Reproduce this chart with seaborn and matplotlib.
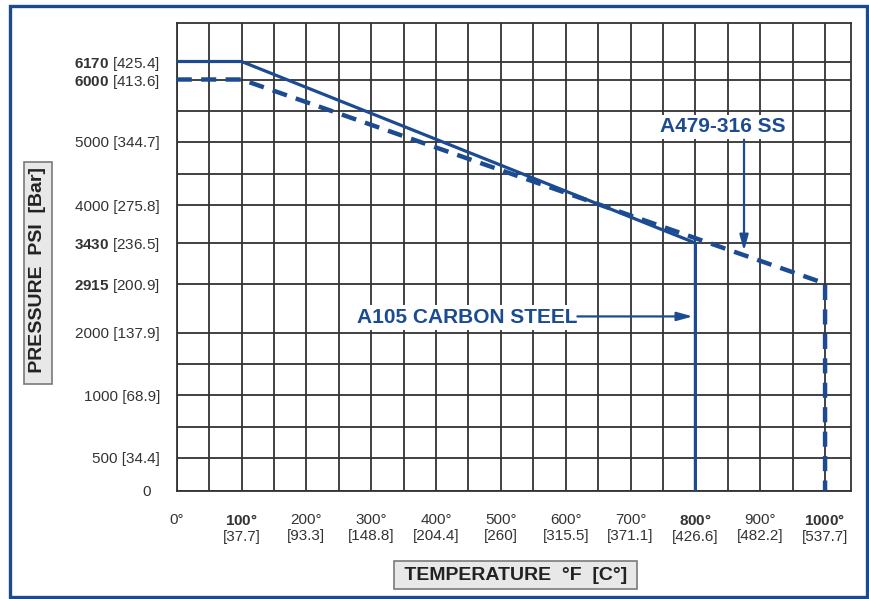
import numpy as np
import pandas as pd
import seaborn as sns
import matplotlib.pyplot as plt
from matplotlib.patches import Rectangle

# Rating curves: temperature (F) vs pressure (PSI)
temp_a105 = [0, 100, 800, 800]
psi_a105 = [6170, 6170, 3430, 0]
temp_a479 = [0, 100, 1000, 1000]
psi_a479 = [6000, 6000, 2915, 0]

# Tick values and labels
x_ticks = [0, 100, 200, 300, 400, 500, 600, 700, 800, 900, 1000]
x_labels = ["0°", "$\\mathbf{100°}$\n[37.7]", "200°\n[93.3]", "300°\n[148.8]",
            "400°\n[204.4]", "500°\n[260]", "600°\n[315.5]", "700°\n[371.1]",
            "$\\mathbf{800°}$\n[426.6]", "900°\n[482.2]", "$\\mathbf{1000°}$\n[537.7]"]
x_minor = [50, 150, 250, 350, 450, 550, 650, 750, 850, 950]
y_ticks = [0, 500, 1000, 2000, 2915, 3430, 4000, 5000, 6000, 6170]
y_labels = ["0  ", "500 [34.4]", "1000 [68.9]", "2000 [137.9]",
            "$\\mathbf{2915}$ [200.9]", "$\\mathbf{3430}$ [236.5]", "4000 [275.8]",
            "5000 [344.7]", "$\\mathbf{6000}$ [413.6]", "$\\mathbf{6170}$ [425.4]"]
y_minor = [750, 1500, 4500, 5500]

# The pressure axis of the original is not to scale: every grid line has its own height
scale_psi = [0, 500, 750, 1000, 1500, 2000, 2915, 3430, 4000, 4500, 5000, 5500, 6000, 6170]
scale_pos = [0, 33, 64, 95.5, 127, 158, 207, 247.5, 285.5, 317, 349, 380, 411, 429]


def _interp(v, xs, ys):
    v = np.asarray(v, dtype=float)
    out = np.interp(v, xs, ys)
    lo = (ys[1] - ys[0]) / (xs[1] - xs[0])
    hi = (ys[-1] - ys[-2]) / (xs[-1] - xs[-2])
    out = np.where(v < xs[0], ys[0] + (v - xs[0]) * lo, out)
    out = np.where(v > xs[-1], ys[-1] + (v - xs[-1]) * hi, out)
    return out


def forward(v):
    return _interp(v, scale_psi, scale_pos)


def inverse(v):
    return _interp(v, scale_pos, scale_psi)


blue = "#1c4b92"
ink = "#333333"

sns.set_style("white")
plt.rcParams['font.family'] = ['Liberation Sans', 'DejaVu Sans']
plt.rcParams['mathtext.fontset'] = 'custom'
plt.rcParams['mathtext.rm'] = 'Liberation Sans'
plt.rcParams['mathtext.bf'] = 'Liberation Sans:bold'

df_a105 = pd.DataFrame({"temp": temp_a105, "psi": psi_a105})
df_a479 = pd.DataFrame({"temp": temp_a479, "psi": psi_a479})

fig = plt.figure(figsize=(8.69, 5.99), dpi=100)
fig.patch.set_facecolor("white")
ax = fig.add_axes([176.7 / 869, 1 - 490.5 / 599, 674.3 / 869, 467.5 / 599])

sns.lineplot(data=df_a105, x="temp", y="psi", estimator=None, sort=False,
             color=blue, lw=2.3, ax=ax, zorder=5)
sns.lineplot(data=df_a479, x="temp", y="psi", estimator=None, sort=False,
             color=blue, lw=3.2, ax=ax, zorder=5)
ax.lines[1].set_linestyle((0, (3.4, 2.1)))

ax.set_yscale('function', functions=(forward, inverse))
ax.set_xlim(0, 1040)
ax.set_ylim(0, float(inverse(467.5)))

ax.set_xticks(x_ticks)
ax.set_xticklabels(x_labels, fontsize=11, color=ink)
ax.set_xticks(x_minor, minor=True)
ax.set_yticks(y_ticks)
ax.set_yticklabels(y_labels, fontsize=11, color=ink)
ax.set_yticks(y_minor, minor=True)
ax.tick_params(axis='x', which='both', direction='out', length=13, width=1.3,
               color=ink, pad=3)
ax.tick_params(axis='y', which='both', direction='out', length=10, width=1.3,
               color=ink, pad=2)
ax.grid(True, which='both', color=ink, lw=1.3)
ax.set_axisbelow(True)
for s in ax.spines.values():
    s.set_color(ink)
    s.set_linewidth(1.3)

# Axis titles in grey boxes
ax.set_ylabel(" PRESSURE  PSI  [Bar]", fontsize=14, fontweight='bold', color='#222222',
              bbox=dict(boxstyle='square,pad=0.26', fc='#e8e8e8', ec='#7a7a7a', lw=1.2))
ax.yaxis.set_label_coords((38 - 176.7) / 674.3, (490.5 - 273) / 467.5)
ax.yaxis.label.set_va('center')
ax.set_xlabel(" TEMPERATURE  °F  [C°] ", fontsize=14, fontweight='bold', color='#222222',
              bbox=dict(boxstyle='square,pad=0.26', fc='#e8e8e8', ec='#7a7a7a', lw=1.2))
ax.xaxis.set_label_coords((515.5 - 176.7) / 674.3, (490.5 - 575) / 467.5)
ax.xaxis.label.set_va('center')

# Callouts
ax.text(843, 5240, "A479-316 SS", fontsize=15, fontweight='bold', color=blue,
        ha='center', va='center', zorder=6,
        bbox=dict(boxstyle='square,pad=0.12', fc='white', ec='none'))
ax.annotate("", xy=(875, 3330), xytext=(875, 5030),
            arrowprops=dict(arrowstyle='-|>,head_length=0.47,head_width=0.13',
                            mutation_scale=20, color=blue, lw=1.6, shrinkA=0, shrinkB=0),
            zorder=6)
ax.text(448, 2280, "A105 CARBON STEEL", fontsize=15, fontweight='bold', color=blue,
        ha='center', va='center', zorder=6,
        bbox=dict(boxstyle='square,pad=0.15', fc='white', ec='none'))
ax.annotate("", xy=(796, 2300), xytext=(618, 2300),
            arrowprops=dict(arrowstyle='-|>,head_length=0.47,head_width=0.13',
                            mutation_scale=20, color=blue, lw=1.6, shrinkA=0, shrinkB=0),
            zorder=6)

# Blue frame around the whole chart
fig.add_artist(Rectangle((10 / 869, 1 - 597 / 599), 857 / 869, 591 / 599,
                         transform=fig.transFigure, fill=False, ec="#1d4a8c", lw=2.4))

fig.savefig("out.png", dpi=100)
